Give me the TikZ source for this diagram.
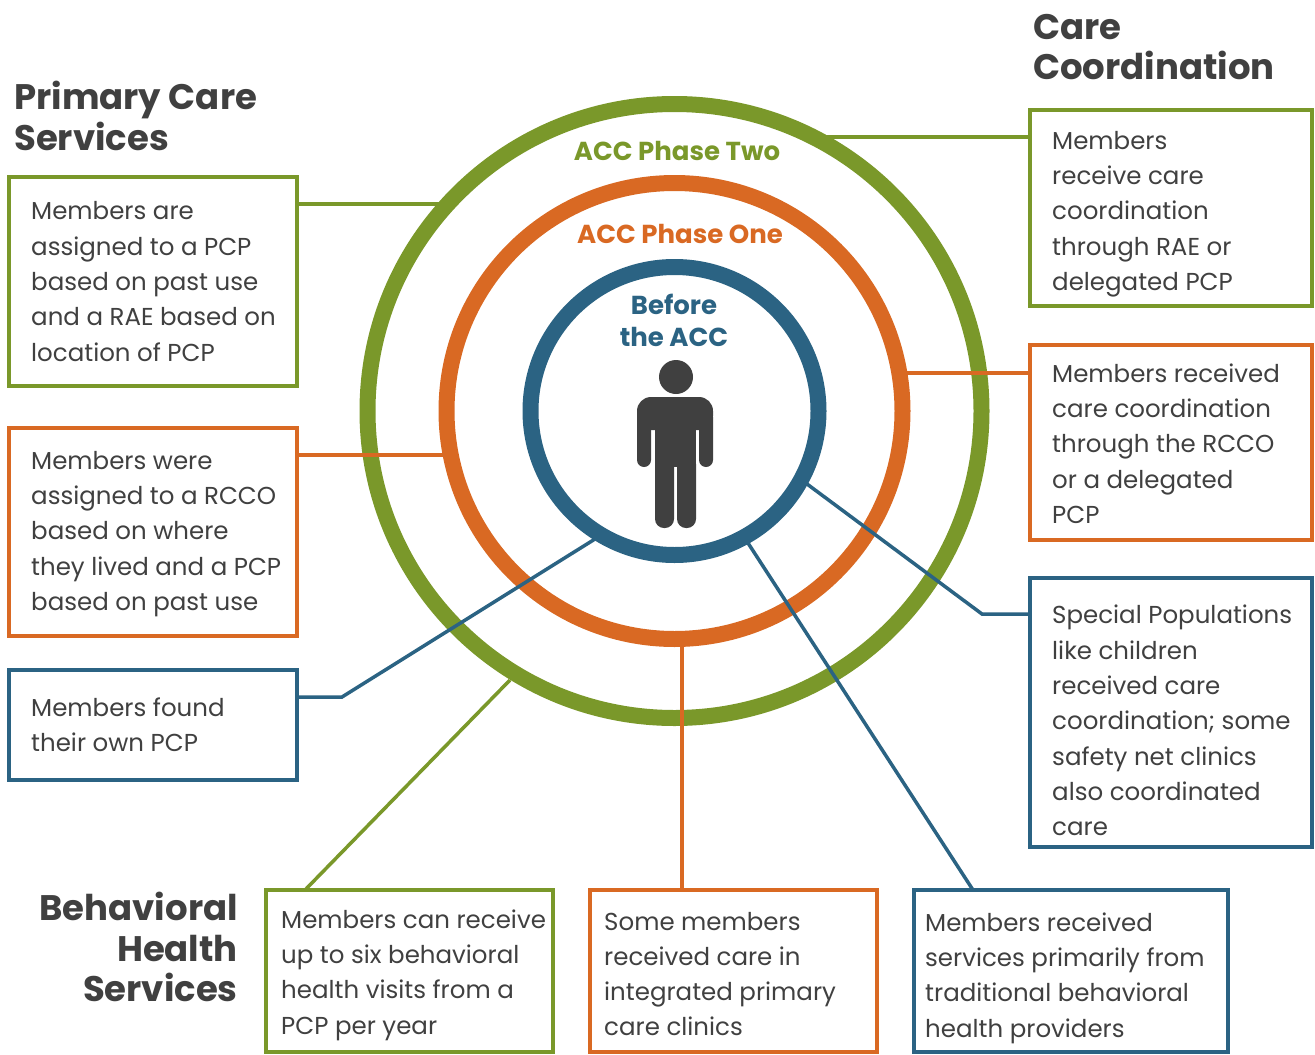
\documentclass[tikz,border=0pt]{standalone}
\usepackage{fontspec}
\setmainfont{Poppins}
\usetikzlibrary{positioning,calc}
\definecolor{accgreen}{RGB}{122,152,42}
\definecolor{accorange}{RGB}{217,105,35}
\definecolor{accblue}{RGB}{43,99,131}
\definecolor{accgray}{RGB}{64,64,64}
\tikzset{
  box/.style={draw=#1, line width=4pt, anchor=north west, inner sep=0pt, outer sep=0pt},
  txt/.style={anchor=west, align=left, text=accgray, inner sep=0pt, font=\fontsize{24.5}{35.3}\selectfont},
  head/.style={text=accgray, inner sep=0pt, font=\bfseries\fontsize{35.5}{40.5}\selectfont},
  ring/.style={draw=#1, line width=16pt},
  link/.style={draw=#1, line width=3.5pt},
  ringlabel/.style={text=#1, inner sep=0pt, align=center, font=\bfseries\fontsize{26}{32}\selectfont}
}
\begin{document}
\begin{tikzpicture}[x=1pt,y=-1pt]
  \useasboundingbox (0,0) rectangle (1315,1055);
  % rings
  \coordinate (c) at (674.5,411);
  \draw[ring=accgreen] (c) circle[radius=307pt];
  \draw[ring=accorange] (c) circle[radius=228pt];
  \draw[ring=accblue] (c) circle[radius=144pt];
  \node[ringlabel=accgreen] (ph2) at (677,151) {ACC Phase Two};
  \node[ringlabel=accorange] (ph1) at (680,234) {ACC Phase One};
  \node[ringlabel=accblue] (pre) at (674,320) {Before\\the ACC};
  % person
  \fill[accgray] (676,377) circle[radius=17pt];
  \fill[accgray, rounded corners=14pt] (637,397) rectangle (713,430);
  \fill[accgray, rounded corners=7pt] (637,410) rectangle (651,467);
  \fill[accgray, rounded corners=7pt] (699,410) rectangle (713,467);
  \fill[accgray] (655,410) rectangle (696,467);
  \fill[accgray, rounded corners=9pt] (655,455) rectangle (674,528);
  \fill[accgray, rounded corners=9pt] (677,455) rectangle (696,528);
  % titles
  \node[head, anchor=west, align=left] (pcs) at (14,116) {Primary Care\\Services};
  \node[head, anchor=west, align=left] (ccs) at (1033,47) {Care\\Coordination};
  \node[head, anchor=east, align=right] (bhs) at (238,947) {Behavioral\\Health\\Services};
  % boxes
  \node[box=accgreen, minimum width=288pt, minimum height=209pt] (pcp1) at (9,177) {};
  \node[box=accorange, minimum width=288pt, minimum height=208pt] (pcp2) at (9,428) {};
  \node[box=accblue, minimum width=288pt, minimum height=110pt] (pcp3) at (9,670) {};
  \node[box=accgreen, minimum width=282pt, minimum height=196pt] (cc1) at (1030,110) {};
  \node[box=accorange, minimum width=282pt, minimum height=195pt] (cc2) at (1030,345) {};
  \node[box=accblue, minimum width=282pt, minimum height=269pt] (cc3) at (1030,578) {};
  \node[box=accgreen, minimum width=287pt, minimum height=162pt] (bh1) at (266,890) {};
  \node[box=accorange, minimum width=287pt, minimum height=162pt] (bh2) at (590,890) {};
  \node[box=accblue, minimum width=314pt, minimum height=162pt] (bh3) at (914,890) {};
  % box texts
  \node[txt] (pcp1t) at ([xshift=22pt]pcp1.west) {Members are\\assigned to a PCP\\based on past use\\and a RAE based on\\location of PCP};
  \node[txt] (pcp2t) at ([xshift=22pt,yshift=-2pt]pcp2.west) {Members were\\assigned to a RCCO\\based on where\\they lived and a PCP\\based on past use};
  \node[txt] (pcp3t) at ([xshift=22pt]pcp3.west) {Members found\\their own PCP};
  \node[txt] (cc1t) at ([xshift=22pt,yshift=-6pt]cc1.west) {Members\\receive care\\coordination\\through RAE or\\delegated PCP};
  \node[txt] (cc2t) at ([xshift=22pt,yshift=-1pt]cc2.west) {Members received\\care coordination\\through the RCCO\\or a delegated\\PCP};
  \node[txt] (cc3t) at ([xshift=22pt,yshift=-8pt]cc3.west) {Special Populations\\like children\\received care\\coordination; some\\safety net clinics\\also coordinated\\care};
  \node[txt] (bh1t) at ([xshift=15pt,yshift=-4pt]bh1.west) {Members can receive\\up to six behavioral\\health visits from a\\PCP per year};
  \node[txt] (bh2t) at ([xshift=14pt,yshift=-3pt]bh2.west) {Some members\\received care in\\integrated primary\\care clinics};
  \node[txt] (bh3t) at ([xshift=11pt,yshift=-7pt]bh3.west) {Members received\\services primarily from\\traditional behavioral\\health providers};
  % connectors
  \coordinate (g1) at (448,204);
  \coordinate (o2) at (451,455);
  \coordinate (k3) at (342,697);
  \coordinate (b3) at (595,539);
  \coordinate (g4) at (813,137);
  \coordinate (o5) at (899,373);
  \coordinate (b6) at (807,484);
  \coordinate (k6) at (982,614);
  \coordinate (g7) at (510,680);
  \coordinate (k7) at (305,890);
  \coordinate (o8) at (682,647);
  \coordinate (b9) at (748,543);
  \coordinate (k9) at (973,890);
  \draw[link=accgreen] (pcp1.east |- g1) -- (g1);
  \draw[link=accorange] (pcp2.east |- o2) -- (o2);
  \draw[link=accblue] (pcp3.east |- k3) -- (k3) -- (b3);
  \draw[link=accgreen] (g4) -- (cc1.west |- g4);
  \draw[link=accorange] (o5) -- (cc2.west |- o5);
  \draw[link=accblue] (b6) -- (k6) -- (cc3.west |- k6);
  \draw[link=accgreen] (g7) -- (k7 |- bh1.north);
  \draw[link=accorange] (o8) -- (o8 |- bh2.north);
  \draw[link=accblue] (b9) -- (k9 |- bh3.north);
\end{tikzpicture}
\end{document}
